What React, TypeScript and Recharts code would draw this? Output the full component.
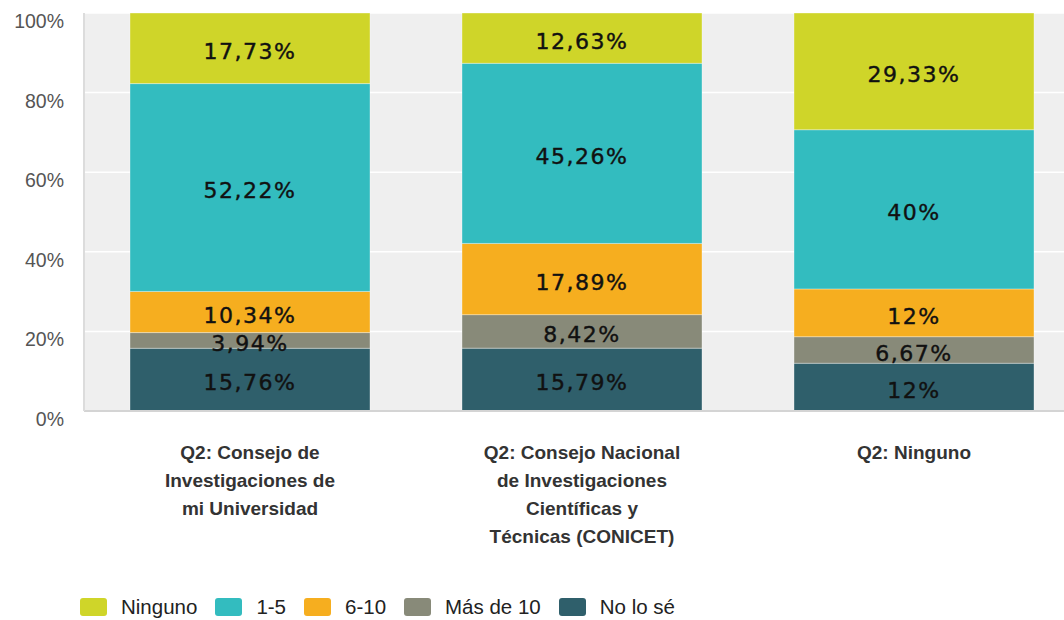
import React from 'react';
import { BarChart, Bar, XAxis, YAxis, CartesianGrid, LabelList } from 'recharts';

// categories (one line per row of the axis label)
const categories = ['universidad', 'conicet', 'ninguno'];
const categoryLines = [
  ['Q2: Consejo de', 'Investigaciones de', 'mi Universidad'],
  ['Q2: Consejo Nacional', 'de Investigaciones', 'Científicas y', 'Técnicas (CONICET)'],
  ['Q2: Ninguno'],
];

// series values, in %
const noLoSe = [15.76, 15.79, 12];
const masDe10 = [3.94, 8.42, 6.67];
const seisDiez = [10.34, 17.89, 12];
const unoCinco = [52.22, 45.26, 40];
const ninguno = [17.73, 12.63, 29.33];

const yTicks = [0, 20, 40, 60, 80, 100];

// stacking order bottom -> top
const series = [
  { key: 'noLoSe', name: 'No lo sé', values: noLoSe, color: '#2f5f6b' },
  { key: 'masDe10', name: 'Más de 10', values: masDe10, color: '#888a79' },
  { key: 'seisDiez', name: '6-10', values: seisDiez, color: '#f6ae1f' },
  { key: 'unoCinco', name: '1-5', values: unoCinco, color: '#33bcbf' },
  { key: 'ninguno', name: 'Ninguno', values: ninguno, color: '#cfd529' },
];

const data = categories.map((c, i) => {
  const row: any = { category: c, idx: i };
  series.forEach(s => { row[s.key] = s.values[i]; });
  return row;
});

const fmt = (v: any) => `${String(v).replace('.', ',')}%`;

const XTick = (props: any) => {
  const { x, y, payload } = props;
  const lines = categoryLines[payload.index] || [];
  return (
    <g>
      {lines.map((l, i) => (
        <text key={i} x={x} y={y + 40 + i * 28} textAnchor="middle" fill="#333"
          fontFamily="'Liberation Sans', Arial, sans-serif" fontWeight="bold" fontSize={19}>
          {l}
        </text>
      ))}
    </g>
  );
};

const YTick = (props: any) => {
  const { y, payload } = props;
  return (
    <text x={64} y={y + 15} textAnchor="end" fill="#555"
      fontFamily="'Liberation Sans', Arial, sans-serif" fontSize={19.5}>
      {`${payload.value}%`}
    </text>
  );
};

const legendOrder = [...series].reverse();

export default function App() {
  return (
    <div style={{ position: 'absolute', left: 0, top: 0, width: 1064, height: 620, overflow: 'hidden', background: '#fff' }}>
      <BarChart
        width={1080}
        height={620}
        data={data}
        margin={{ top: 13, right: 0, bottom: 0, left: 0 }}
        barCategoryGap={46}
      >
        <CartesianGrid vertical={false} stroke="#ffffff" strokeWidth={1.5} fill="#efefef" />
        <XAxis dataKey="category" height={209} tickLine={false} axisLine={{ stroke: '#d4d4d4', strokeWidth: 2 }}
          tick={<XTick />} interval={0} />
        <YAxis width={84} domain={[0, 100]} ticks={yTicks} tickLine={false}
          axisLine={{ stroke: '#dcdcdc', strokeWidth: 2 }} tick={<YTick />} />
        {series.map(s => (
          <Bar key={s.key} dataKey={s.key} name={s.name} stackId="a" fill={s.color}
            stroke="rgba(255,255,255,0.35)" strokeWidth={1} isAnimationActive={false}>
            <LabelList dataKey={s.key} position="center" formatter={fmt} fill="#111"
              stroke="#111" strokeWidth={0.4} dy={3}
              fontFamily="'DejaVu Sans', sans-serif" fontSize={22} letterSpacing={1.5} />
          </Bar>
        ))}
      </BarChart>
      <div style={{ position: 'absolute', left: 80, top: 595, height: 23, lineHeight: '23px', display: 'flex', alignItems: 'center',
        fontFamily: "'Liberation Sans', Arial, sans-serif", fontSize: 20.5, color: '#222' }}>
        {legendOrder.map(s => (
          <div key={s.key} style={{ display: 'flex', alignItems: 'center', marginRight: 18 }}>
            <span style={{ width: 27, height: 18, borderRadius: 3, background: s.color, marginRight: 14, display: 'inline-block' }} />
            <span>{s.name}</span>
          </div>
        ))}
      </div>
    </div>
  );
}
